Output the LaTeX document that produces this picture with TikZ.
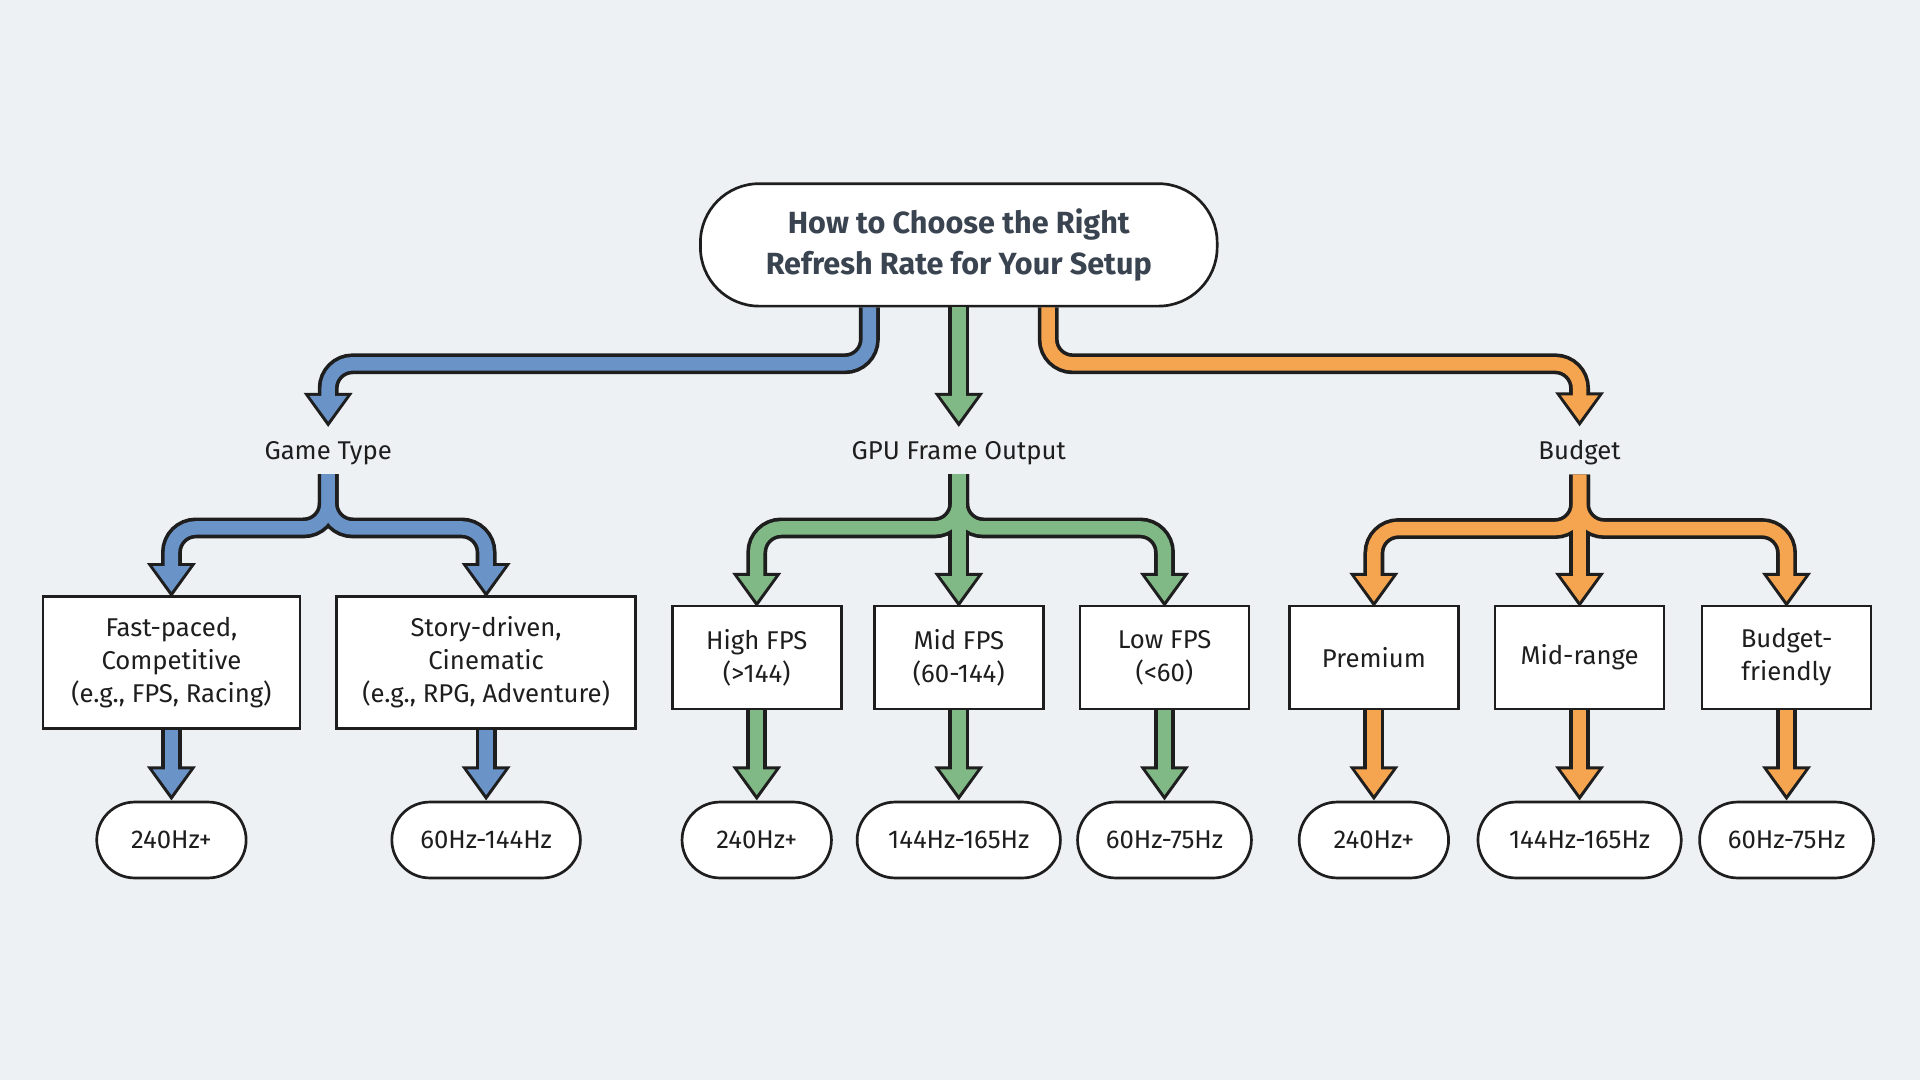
\documentclass[tikz,border=0pt]{standalone}
\usepackage{fontspec}
\setmainfont{Fira Sans}
\usetikzlibrary{arrows.meta}
\definecolor{bg}{HTML}{EEF1F4}
\definecolor{ink}{HTML}{1E1E1E}
\definecolor{ttl}{HTML}{3A4450}
\definecolor{cblue}{HTML}{6A93C8}
\definecolor{cgreen}{HTML}{80B886}
\definecolor{corange}{HTML}{F5A54F}
\tikzset{
    box/.style={draw=ink, line width=2.2pt, fill=white, align=center, inner sep=4pt,
        font=\fontsize{21}{27}\selectfont, text=ink},
    res/.style={box, rounded corners=31pt, minimum height=62pt},
    lbl/.style={font=\fontsize{21}{27}\selectfont, text=ink},
    outer/.style={draw=ink, line width=17pt, rounded corners=20pt,
        -{Triangle[width=38pt,length=28pt]}},
    inner/.style={draw=#1, line width=11pt, rounded corners=20pt, shorten >=4.5pt,
        -{Triangle[width=29pt,length=21pt]}}
}
\newcommand{\fatpaths}[2]{
    \foreach \p in {#2} {\draw[outer] \p;}
    \foreach \p in {#2} {\draw[inner=#1] \p;}
}
\begin{document}
\begin{tikzpicture}[x=1pt,y=-1pt]
    \fill[bg] (0,0) rectangle (1568,882);
    \useasboundingbox (0,0) rectangle (1568,882);

    % Title
    \node[box, rounded corners=48pt, minimum width=422pt, minimum height=100pt, text=ttl,
        font=\fontsize{25}{34}\selectfont\bfseries] (title) at (783,200)
        {How to Choose the Right\\Refresh Rate for Your Setup};

    % Category labels
    \node[lbl] (game) at (268,370) {Game Type};
    \node[lbl] (gpu) at (783,370) {GPU Frame Output};
    \node[lbl] (budget) at (1290,370) {Budget};

    % Middle boxes
    \node[box, minimum width=210pt, minimum height=108pt] (fast) at (140,541)
        {Fast-paced,\\Competitive\\(e.g., FPS, Racing)};
    \node[box, minimum width=244pt, minimum height=108pt] (story) at (397,541)
        {Story-driven,\\Cinematic\\(e.g., RPG, Adventure)};
    \node[box, minimum width=138pt, minimum height=84pt] (high) at (618,537) {High FPS\\(>144)};
    \node[box, minimum width=138pt, minimum height=84pt] (mid) at (783,537) {Mid FPS\\(60-144)};
    \node[box, minimum width=138pt, minimum height=84pt] (low) at (951,537) {Low FPS\\(<60)};
    \node[box, minimum width=138pt, minimum height=84pt] (prem) at (1122,537) {Premium};
    \node[box, minimum width=138pt, minimum height=84pt] (midr) at (1290,537) {Mid-range};
    \node[box, minimum width=138pt, minimum height=84pt] (bfr) at (1459,537) {Budget-\\friendly};

    % Results
    \node[res, minimum width=122pt] (r1) at (140,686) {240Hz+};
    \node[res, minimum width=154pt] (r2) at (397,686) {60Hz-144Hz};
    \node[res, minimum width=122pt] (r3) at (618,686) {240Hz+};
    \node[res, minimum width=166pt] (r4) at (783,686) {144Hz-165Hz};
    \node[res, minimum width=142pt] (r5) at (951,686) {60Hz-75Hz};
    \node[res, minimum width=122pt] (r6) at (1122,686) {240Hz+};
    \node[res, minimum width=166pt] (r7) at (1290,686) {144Hz-165Hz};
    \node[res, minimum width=142pt] (r8) at (1459,686) {60Hz-75Hz};

    % Connectors
    \fatpaths{cblue}{{([xshift=-73pt]title.south) -- ++(0,46) -| ([yshift=8pt]game.north)},
        {([yshift=-4pt]game.south) -- ++(0,44) -| ([yshift=-2pt]fast.north)},
        {([yshift=-4pt]game.south) -- ++(0,44) -| ([yshift=-2pt]story.north)},
        {(fast.south) -- (r1.north)}, {(story.south) -- (r2.north)}}
    \fatpaths{cgreen}{{(title.south) -- ([yshift=8pt]gpu.north)},
        {([yshift=-4pt]gpu.south) -- ++(0,44) -| ([yshift=-2pt]high.north)},
        {([yshift=-4pt]gpu.south) -- ([yshift=-2pt]mid.north)},
        {([yshift=-4pt]gpu.south) -- ++(0,44) -| ([yshift=-2pt]low.north)},
        {(high.south) -- (r3.north)}, {(mid.south) -- (r4.north)}, {(low.south) -- (r5.north)}}
    \fatpaths{corange}{{([xshift=73pt]title.south) -- ++(0,46) -| ([yshift=8pt]budget.north)},
        {([yshift=-4pt]budget.south) -- ++(0,44) -| ([yshift=-2pt]prem.north)},
        {([yshift=-4pt]budget.south) -- ([yshift=-2pt]midr.north)},
        {([yshift=-4pt]budget.south) -- ++(0,44) -| ([yshift=-2pt]bfr.north)},
        {(prem.south) -- (r6.north)}, {(midr.south) -- (r7.north)}, {(bfr.south) -- (r8.north)}}
\end{tikzpicture}
\end{document}
